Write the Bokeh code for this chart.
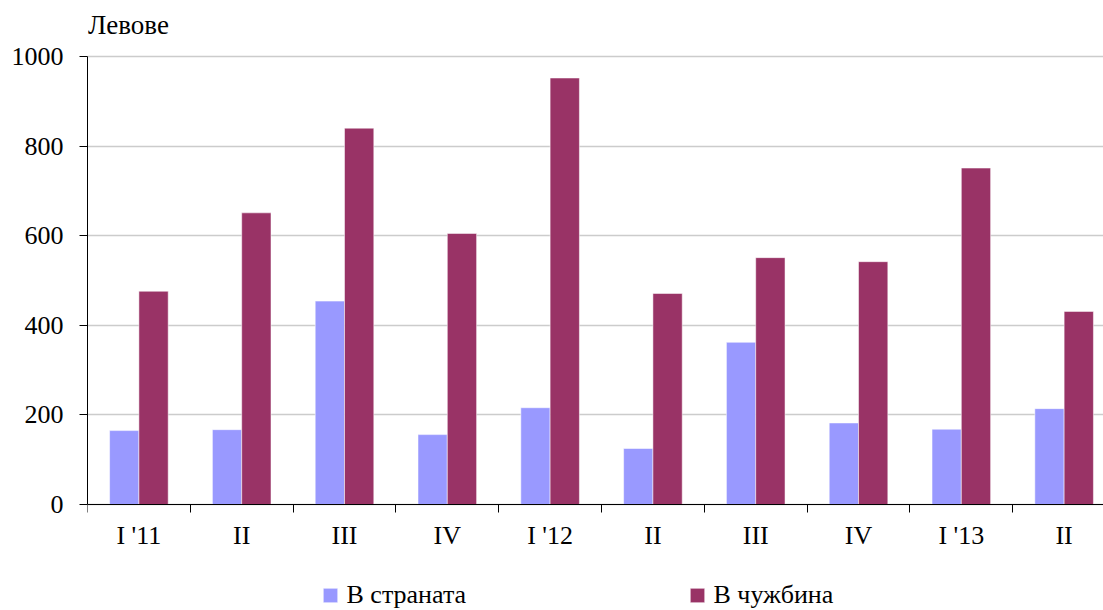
from bokeh.plotting import figure
from bokeh.models import (ColumnDataSource, Range1d, FixedTicker, Legend, LegendItem, Label)
from bokeh.transform import dodge
from bokeh.embed import file_html
from bokeh.resources import INLINE

categories = ["I '11", "II", "III", "IV", "I '12", "II", "III", "IV", "I '13", "II"]
domestic = [165, 167, 454, 156, 216, 125, 362, 182, 168, 214]   # В страната
abroad = [476, 651, 840, 605, 952, 471, 551, 542, 751, 431]     # В чужбина
y_ticks = [0, 200, 400, 600, 800, 1000]
series_names = ["В страната", "В чужбина"]
unit_label = "Левове"

FONT = "Liberation Serif"
FS = "26px"

positions = list(range(len(categories)))
source = ColumnDataSource(dict(x=positions, domestic=domestic, abroad=abroad))

# frame covers the full canvas height; the value axis spans 0..1000 (448 px)
p = figure(width=1103, height=610, output_backend="svg", toolbar_location=None,
           x_range=Range1d(-0.5, 9.383), y_range=Range1d(-236.6, 1125),
           min_border_left=87, min_border_right=0, min_border_top=0, min_border_bottom=0)
p.outline_line_color = None
p.background_fill_color = "white"
p.border_fill_color = "white"

r1 = p.vbar(x=dodge("x", -0.1425, range=p.x_range), top="domestic", width=0.285, bottom=0,
            source=source, fill_color="#9999FF", line_color="#ffffff", line_alpha=0.5, line_width=1)
r2 = p.vbar(x=dodge("x", 0.1425, range=p.x_range), top="abroad", width=0.285, bottom=0,
            source=source, fill_color="#993366", line_color="#ffffff", line_alpha=0.5, line_width=1)

# x axis, drawn at value 0
xa = p.xaxis[0]
xa.fixed_location = 0
xa.ticker = FixedTicker(ticks=positions, minor_ticks=[i - 0.5 for i in range(len(categories) + 1)])
xa.major_label_overrides = {i: c for i, c in enumerate(categories)}
xa.major_tick_line_color = None
xa.major_tick_out = 0
xa.major_tick_in = 0
xa.minor_tick_out = 8
xa.minor_tick_in = 0
xa.minor_tick_line_color = "black"
xa.minor_tick_line_width = 1
xa.axis_line_color = "black"
xa.axis_line_width = 1
xa.major_label_text_font = FONT
xa.major_label_text_font_size = FS
xa.major_label_text_color = "black"
xa.major_label_standoff = 8

# y axis
ya = p.yaxis[0]
ya.bounds = (0, 1000)
ya.ticker = FixedTicker(ticks=y_ticks)
ya.major_tick_out = 8
ya.major_tick_in = 0
ya.minor_tick_line_color = None
ya.major_tick_line_color = "black"
ya.axis_line_color = "black"
ya.major_label_text_font = FONT
ya.major_label_text_font_size = FS
ya.major_label_text_color = "black"
ya.major_label_standoff = 16

p.xgrid.grid_line_color = None
p.ygrid.grid_line_color = "#cccccc"
p.ygrid.grid_line_width = 1.5

p.add_layout(Label(x=-0.494, y=1070, text=unit_label, text_font=FONT, text_font_size="27px",
                   text_color="black", text_baseline="alphabetic", text_align="left"))

legend = Legend(items=[LegendItem(label=series_names[0], renderers=[r1]),
                       LegendItem(label=series_names[1], renderers=[r2])],
                location=(233.5, 0), orientation="horizontal", padding=0, margin=0,
                spacing=190, label_width=151, border_line_color=None, background_fill_alpha=0,
                glyph_width=18, glyph_height=18, label_standoff=8,
                label_text_font=FONT, label_text_font_size=FS, label_text_color="black")
p.add_layout(legend, "center")

open("out.html", "w").write(file_html(p, INLINE))
